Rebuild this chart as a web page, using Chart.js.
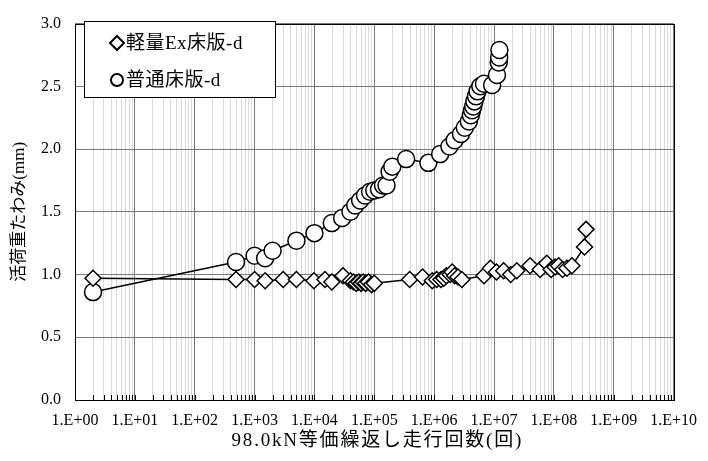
<!DOCTYPE html>
<html>
<head>
<meta charset="utf-8">
<script src="https://cdn.jsdelivr.net/npm/chart.js@4/dist/chart.umd.min.js"></script>
<style>
  html, body { margin: 0; padding: 0; background: #fff; }
  #wrap { width: 708px; height: 461px; }
</style>
</head>
<body>
<div id="wrap"><canvas id="c" width="708" height="461"></canvas></div>
<script>
// Series names
const seriesNames = ['軽量Ex床版-d', '普通床版-d'];

// 軽量Ex床版: equivalent passes and live-load deflection (mm)
const exCycles = [2, 490, 1000, 1500, 3000, 5000, 9800, 15000, 19500, 30000,
  40000, 45000, 50000, 55000, 60000, 65000, 72000, 80000, 90000, 100000,
  390000, 640000, 930000, 1100000, 1300000, 1450000, 1600000, 1850000, 2000000, 2200000, 2500000, 2900000,
  6800000, 8700000, 11000000, 14500000, 19000000, 24000000,
  40000000, 59000000, 76000000, 90000000, 105000000, 120000000, 140000000, 165000000, 200000000,
  325000000, 345000000];
const exDeflection = [0.97, 0.96, 0.96, 0.95, 0.96, 0.96, 0.95, 0.96, 0.94, 0.99,
  0.95, 0.94, 0.93, 0.94, 0.93, 0.94, 0.93, 0.94, 0.92, 0.93,
  0.96, 0.98, 0.95, 0.96, 0.96, 0.97, 0.99, 1.00, 1.02, 0.99, 0.98, 0.96,
  0.99, 1.05, 1.02, 1.03, 1.00, 1.03,
  1.07, 1.04, 1.09, 1.04, 1.06, 1.07, 1.04, 1.05, 1.07,
  1.22, 1.36];

// 普通床版: equivalent passes and live-load deflection (mm)
const stdCycles = [2, 490, 1000, 1500, 2000, 5000, 10000, 19500, 29000, 40000,
  48000, 58000, 70000, 85000, 100000, 120000, 140000, 160000, 180000, 200000,
  340000, 800000, 1260000, 1800000, 2200000, 2800000, 3250000, 3800000, 4100000, 4300000,
  4500000, 4700000, 5000000, 5300000, 5900000, 6800000, 9300000, 11200000, 12000000, 12200000, 12300000];
const stdDeflection = [0.86, 1.10, 1.15, 1.13, 1.19, 1.27, 1.33, 1.41, 1.45, 1.50,
  1.55, 1.59, 1.63, 1.66, 1.67, 1.68, 1.71, 1.71, 1.82, 1.86,
  1.92, 1.89, 1.96, 2.02, 2.07, 2.12, 2.17, 2.22, 2.27, 2.31,
  2.34, 2.38, 2.42, 2.46, 2.50, 2.52, 2.51, 2.59, 2.69, 2.73, 2.79];

// Axis settings
const xDecades = [0, 1, 2, 3, 4, 5, 6, 7, 8, 9, 10];
const yTickValues = [0, 0.5, 1.0, 1.5, 2.0, 2.5, 3.0];
const xTitle = '98.0kN等価繰返し走行回数(回)';
const yTitle = '活荷重たわみ(mm)';

const FONT = '"Liberation Serif", "Noto Sans CJK JP", serif';

const toPoints = (xs, ys) => xs.map((x, i) => ({ x: x, y: ys[i] }));
const isDecade = v => Math.abs(Math.log10(v) - Math.round(Math.log10(v))) < 1e-9;
const decadeLabel = v => {
  const e = Math.round(Math.log10(v));
  return '1.E+' + String(e).padStart(2, '0');
};

// All log positions 1..9 x 10^k between the first and last decade
function logTickValues() {
  const out = [];
  for (let k = xDecades[0]; k < xDecades[xDecades.length - 1]; k++) {
    for (let m = 1; m <= 9; m++) out.push(m * Math.pow(10, k));
  }
  out.push(Math.pow(10, xDecades[xDecades.length - 1]));
  return out;
}

// Frame around the plot and short inward ticks at the bottom axis
const framePlugin = {
  id: 'frame',
  afterDatasetsDraw(chart) {
    const { ctx, chartArea: a, scales } = chart;
    ctx.save();
    ctx.strokeStyle = '#000';
    ctx.lineWidth = 1;
    ctx.beginPath();
    for (const v of logTickValues()) {
      const px = Math.round(scales.x.getPixelForValue(v)) + 0.5;
      ctx.moveTo(px, a.bottom);
      ctx.lineTo(px, a.bottom - 5);
    }
    ctx.stroke();
    ctx.strokeRect(Math.round(a.left) + 0.5, Math.round(a.top) + 0.5,
      Math.round(a.right - a.left), Math.round(a.bottom - a.top));
    ctx.restore();
  }
};

// Horizontal axis title, slightly letter-spaced, centred under the plot
const xTitlePlugin = {
  id: 'xTitle',
  afterDraw(chart) {
    const { ctx, chartArea: a } = chart;
    ctx.save();
    ctx.font = '19px ' + FONT;
    ctx.letterSpacing = '1.8px';
    ctx.fillStyle = '#000';
    ctx.textAlign = 'center';
    ctx.textBaseline = 'middle';
    ctx.fillText(xTitle, (a.left + a.right) / 2 + 3, 441);
    ctx.restore();
  }
};

// Legend box drawn inside the plot, upper-left
const boxLegendPlugin = {
  id: 'boxLegend',
  afterDraw(chart) {
    const { ctx } = chart;
    const bx = 84, by = 21, bw = 191, bh = 76;
    ctx.save();
    ctx.fillStyle = '#fff';
    ctx.fillRect(bx, by, bw, bh);
    ctx.strokeStyle = '#000';
    ctx.lineWidth = 1;
    ctx.strokeRect(bx + 0.5, by + 0.5, bw, bh);
    ctx.font = '19px ' + FONT;
    ctx.letterSpacing = '0.5px';
    ctx.textBaseline = 'middle';
    chart.data.datasets.forEach((ds, i) => {
      const cy = by + 22 + i * 37;
      const cx = 117;
      ctx.fillStyle = '#fff';
      ctx.strokeStyle = '#000';
      ctx.lineWidth = 2;
      ctx.beginPath();
      if (ds.pointStyle === 'circle') {
        ctx.arc(cx, cy, 6, 0, Math.PI * 2);
      } else {
        ctx.moveTo(cx - 7, cy); ctx.lineTo(cx, cy - 7); ctx.lineTo(cx + 7, cy); ctx.lineTo(cx, cy + 7); ctx.closePath();
      }
      ctx.fill();
      ctx.stroke();
      ctx.fillStyle = '#000';
      ctx.fillText(ds.label, 126, cy + 1);
    });
    ctx.restore();
  }
};

new Chart(document.getElementById('c'), {
  type: 'line',
  data: {
    datasets: [
      {
        label: seriesNames[0],
        data: toPoints(exCycles, exDeflection),
        borderColor: '#000', borderWidth: 1.5,
        pointStyle: 'rectRot', pointRadius: 8,
        pointBackgroundColor: '#fff', pointBorderColor: '#000', pointBorderWidth: 1.5,
        tension: 0, fill: false
      },
      {
        label: seriesNames[1],
        data: toPoints(stdCycles, stdDeflection),
        borderColor: '#000', borderWidth: 1.5,
        pointStyle: 'circle', pointRadius: 8.5,
        pointBackgroundColor: '#fff', pointBorderColor: '#000', pointBorderWidth: 1.5,
        tension: 0, fill: false
      }
    ]
  },
  options: {
    responsive: false,
    animation: false,
    devicePixelRatio: 1,
    layout: { padding: { top: 14, right: 28, left: 0, bottom: 0 } },
    plugins: {
      legend: { display: false },
      tooltip: { enabled: false }
    },
    scales: {
      x: {
        type: 'logarithmic',
        position: 'bottom',
        min: Math.pow(10, xDecades[0]),
        max: Math.pow(10, xDecades[xDecades.length - 1]),
        afterBuildTicks: s => { s.ticks = logTickValues().map(v => ({ value: v, major: isDecade(v) })); },
        afterFit: s => { s.height = 61; },
        border: { display: false },
        grid: {
          drawTicks: false,
          lineWidth: 1,
          color: c => (c.tick && isDecade(c.tick.value)) ? '#7a7a7a' : '#d9d9d9'
        },
        ticks: {
          autoSkip: false, maxRotation: 0, minRotation: 0, padding: 11,
          color: '#000', font: { family: FONT, size: 16 },
          callback: v => isDecade(v) ? decadeLabel(v) : ''
        },
        title: { display: false }
      },
      y: {
        type: 'linear',
        min: yTickValues[0],
        max: yTickValues[yTickValues.length - 1],
        afterBuildTicks: s => { s.ticks = yTickValues.map(v => ({ value: v })); },
        afterFit: s => { s.width = 75; },
        border: { display: false },
        grid: { drawTicks: false, color: '#7a7a7a', lineWidth: 1 },
        ticks: {
          padding: 14, color: '#000', font: { family: FONT, size: 16 },
          callback: v => Number(v).toFixed(1)
        },
        title: {
          display: true, text: yTitle, color: '#000',
          font: { family: FONT, size: 17 },
          padding: { top: 9, bottom: 0 }
        }
      }
    }
  },
  plugins: [framePlugin, xTitlePlugin, boxLegendPlugin]
});
</script>
</body>
</html>
